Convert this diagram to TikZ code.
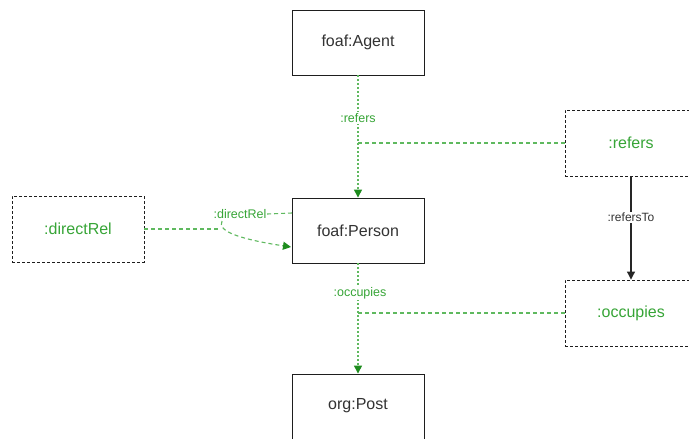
\documentclass[tikz,border=0pt]{standalone}
\usepackage{fontspec}
\setmainfont{Liberation Sans}
\usetikzlibrary{arrows.meta}
\definecolor{gtext}{RGB}{55,165,55}
\definecolor{gline}{RGB}{95,185,95}
\definecolor{garrow}{RGB}{30,140,30}
\definecolor{boxline}{RGB}{30,30,30}
\begin{document}
\begin{tikzpicture}[x=1pt,y=-1pt,
  cls/.style={draw=boxline,line width=0.9pt,fill=white,minimum width=132pt,minimum height=65pt,inner sep=0pt,font=\fontsize{16}{18}\selectfont,text=black!80},
  prop/.style={draw=boxline,line width=0.9pt,dash pattern=on 3pt off 2pt,fill=white,minimum width=132pt,minimum height=66pt,inner sep=0pt,font=\fontsize{16}{18}\selectfont,text=gtext},
  elabel/.style={fill=white,inner sep=1pt,font=\fontsize{12.5}{14}\selectfont,text=gtext},
  vdot/.style={draw=gline,line width=1.3pt,dash pattern=on 2pt off 2pt},
  hdash/.style={draw=gline,line width=1.1pt,dash pattern=on 4pt off 3pt},
  gtip/.style={-{Triangle[length=8pt,width=8pt,color=garrow,fill=garrow]}}
]
\useasboundingbox (0,0) rectangle (689,439);
\fill[white] (0,0) rectangle (689,439);

\node[cls] (agent) at (358,42.5) {foaf:Agent};
\node[cls] (person) at (358,230.5) {foaf:Person};
\node[cls,minimum height=80pt] (post) at (358,414) {};
\node[font=\fontsize{16}{18}\selectfont,text=black!80] (posttext) at (358,406) {org:Post};
\node[prop] (refers) at (631,143) {:refers};
\node[prop] (occupies) at (631,313) {:occupies};
\node[prop] (direct) at (78,229) {:directRel};

% refers
\draw[vdot,gtip] (agent.south) -- (person.north);
\node[elabel] (lrefers) at (358,118) {:refers};
\coordinate (jr) at (358,143);
\draw[hdash] (refers.west) -- (jr);

% occupies
\draw[vdot,gtip] (person.south) -- (post.north);
\node[elabel] (loccupies) at (360,293) {:occupies};
\coordinate (jo) at (358,313);
\draw[hdash] (occupies.west) -- (jo);

% refersTo
\draw[line width=1.1pt,black!85,-{Triangle[length=8pt,width=8pt]}] (refers.south) -- (occupies.north)
  node[pos=0.4,fill=white,inner sep=1pt,font=\fontsize{12}{14}\selectfont,text=black!80] (lrefto) {:refersTo};

% directRel
\node[elabel,inner sep=0.5pt] (ldirect) at (240,214) {:directRel};
\coordinate (pa) at (292,213);
\coordinate (pb) at (291,247);
\coordinate (jd) at (221,229);
\coordinate (jdt) at (222,221);
\draw[hdash] (pa) -- (ldirect.east);
\draw[hdash] (direct.east) -- (jd);
\draw[hdash,gtip] (jdt) .. controls (216,232) and (245,240) .. (pb);
\end{tikzpicture}
\end{document}
